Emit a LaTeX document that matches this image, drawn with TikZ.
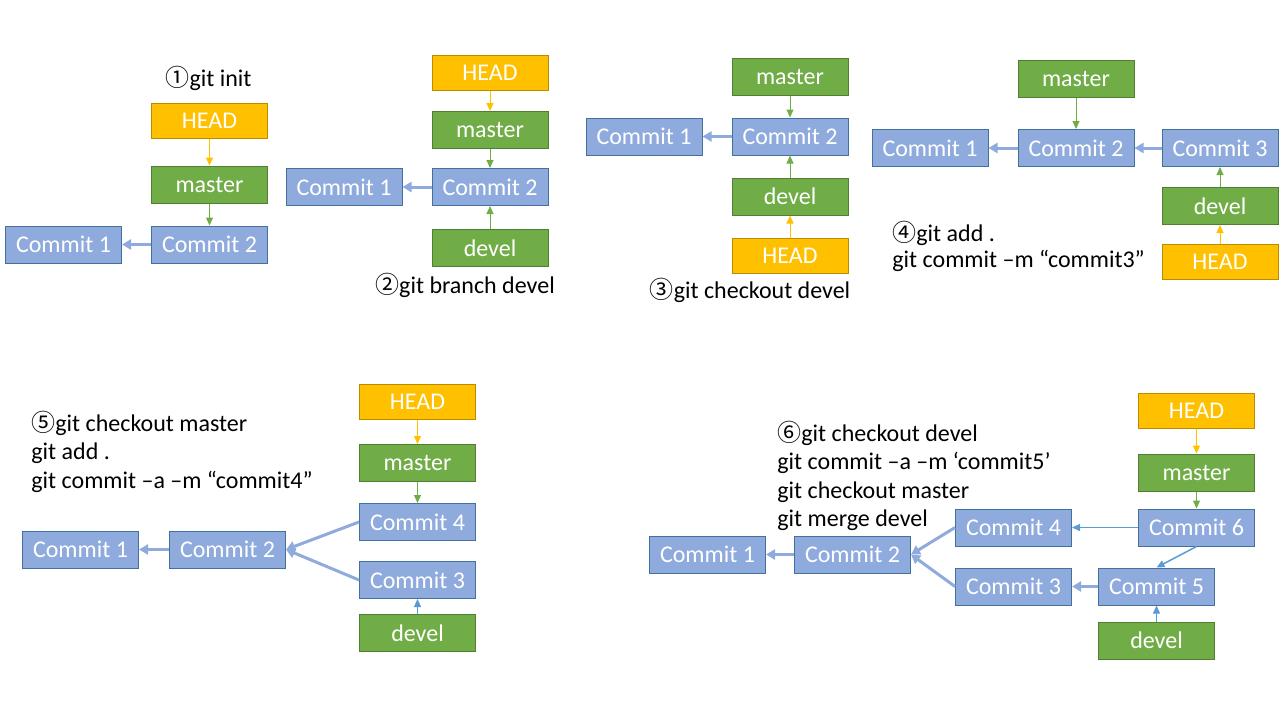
\documentclass[tikz,border=0pt]{standalone}
\usepackage{fontspec}
\setmainfont{Carlito}
\newfontfamily\numfont{Noto Sans CJK SC}
\usetikzlibrary{arrows.meta, positioning}

\definecolor{commitblue}{HTML}{8FAADC}
\definecolor{commitline}{HTML}{41719C}
\definecolor{branchgreen}{HTML}{70AD47}
\definecolor{branchline}{HTML}{507E32}
\definecolor{headyellow}{HTML}{FFC000}
\definecolor{headline}{HTML}{BC8C00}
\definecolor{pointblue}{HTML}{5B9BD5}

\newcommand{\stepnum}[1]{{\numfont #1}}

\begin{document}
\begin{tikzpicture}[
        x=0.5pt, y=-0.5pt,
        font=\fontsize{12}{14.25}\selectfont,
        box/.style={rectangle, draw, line width=0.5pt, minimum width=58pt, minimum height=18.5pt, inner sep=0pt, text=white},
        commit/.style={box, fill=commitblue, draw=commitline},
        branch/.style={box, fill=branchgreen, draw=branchline},
        head/.style={box, fill=headyellow, draw=headline, minimum height=17.5pt},
        cmd/.style={align=left, anchor=west, inner sep=0pt},
        parent/.style={-{Triangle[length=4.5pt, width=5pt]}, line width=1.5pt, commitblue},
        ptr/.style={-{Triangle[length=4pt, width=3.5pt]}, line width=0.5pt}
    ]
        \useasboundingbox (0,0) rectangle (1280,720);

        % Panel 1
        \node[commit] (p1c2) at (209.5,244.5) {Commit 2};
        \node[commit, left=14.5pt of p1c2] (p1c1) {Commit 1};
        \node[branch, above=11pt of p1c2] (p1master) {master};
        \node[head, above=13.5pt of p1master] (p1head) {HEAD};
        \node (p1label) at (208.5,78) {\stepnum{①}git init};

        % Panel 2
        \node[commit] (p2c2) at (490,187) {Commit 2};
        \node[commit, left=14.5pt of p2c2] (p2c1) {Commit 1};
        \node[branch, above=9.5pt of p2c2] (p2master) {master};
        \node[head, above=10pt of p2master] (p2head) {HEAD};
        \node[branch, below=11.5pt of p2c2] (p2devel) {devel};
        \node (p2label) at (465,285) {\stepnum{②}git branch devel};

        % Panel 3
        \node[commit] (p3c2) at (790,136.5) {Commit 2};
        \node[commit, left=14.5pt of p3c2] (p3c1) {Commit 1};
        \node[branch, above=11pt of p3c2] (p3master) {master};
        \node[branch, below=11pt of p3c2] (p3devel) {devel};
        \node[head, below=11pt of p3devel] (p3head) {HEAD};
        \node (p3label) at (750,290) {\stepnum{③}git checkout devel};

        % Panel 4
        \node[commit] (p4c2) at (1076,148) {Commit 2};
        \node[commit, left=14.5pt of p4c2] (p4c1) {Commit 1};
        \node[commit, right=13.5pt of p4c2] (p4c3) {Commit 3};
        \node[branch, above=15.5pt of p4c2] (p4master) {master};
        \node[branch, below=10pt of p4c3] (p4devel) {devel};
        \node[head, below=9.5pt of p4devel] (p4head) {HEAD};
        \node[cmd, font=\fontsize{12}{13}\selectfont] (p4label) at (892,246)
            {\stepnum{④}git add .\\git commit –m “commit3”};

        % Panel 5
        \node[commit] (p5c2) at (227.5,549.5) {Commit 2};
        \node[commit, left=15pt of p5c2] (p5c1) {Commit 1};
        \node[commit] (p5c4) at (417.5,522) {Commit 4};
        \node[commit, below=10pt of p5c4] (p5c3) {Commit 3};
        \node[branch, below=7.5pt of p5c3] (p5devel) {devel};
        \node[branch, above=10.5pt of p5c4] (p5master) {master};
        \node[head, above=12pt of p5master] (p5head) {HEAD};
        \node[cmd] (p5label) at (31,451.5)
            {\stepnum{⑤}git checkout master\\git add .\\git commit –a –m “commit4”};

        % Panel 6
        \node[commit] (p6c2) at (852.5,554.5) {Commit 2};
        \node[commit, left=14pt of p6c2] (p6c1) {Commit 1};
        \node[commit] (p6c4) at (1013.5,527.5) {Commit 4};
        \node[commit, below=10.5pt of p6c4] (p6c3) {Commit 3};
        \node[commit, right=13pt of p6c3] (p6c5) {Commit 5};
        \node[branch, below=8pt of p6c5] (p6devel) {devel};
        \node[commit, right=33pt of p6c4] (p6c6) {Commit 6};
        \node[branch, above=8.5pt of p6c6] (p6master) {master};
        \node[head, above=12.5pt of p6master] (p6head) {HEAD};
        \node[cmd] (p6label) at (777,475.75)
            {\stepnum{⑥}git checkout devel\\git commit –a –m ‘commit5’\\git checkout master\\git merge devel};

        % Parent arrows
        \draw[parent] (p1c2) -- (p1c1);
        \draw[parent] (p2c2) -- (p2c1);
        \draw[parent] (p3c2) -- (p3c1);
        \draw[parent] (p4c2) -- (p4c1);
        \draw[parent] (p4c3) -- (p4c2);
        \draw[parent] (p5c2) -- (p5c1);
        \draw[parent] (p5c4.west) -- (p5c2.east);
        \draw[parent] (p5c3.west) -- (p5c2.east);
        \draw[parent] (p6c2) -- (p6c1);
        \draw[parent] (p6c4.west) -- (p6c2.east);
        \draw[parent] (p6c3.west) -- (p6c2.east);
        \draw[parent] (p6c5) -- (p6c3);
        \draw[ptr, pointblue, line width=0.75pt] (p6c6) -- (p6c4);
        \draw[ptr, pointblue, line width=0.75pt] (p6c6.south) -- (p6c5.north);

        % Pointer arrows
        \draw[ptr, headyellow] (p1head) -- (p1master);
        \draw[ptr, branchgreen] (p1master) -- (p1c2);
        \draw[ptr, headyellow] (p2head) -- (p2master);
        \draw[ptr, branchgreen] (p2master) -- (p2c2);
        \draw[ptr, branchgreen] (p2devel) -- (p2c2);
        \draw[ptr, branchgreen] (p3master) -- (p3c2);
        \draw[ptr, branchgreen] (p3devel) -- (p3c2);
        \draw[ptr, headyellow] (p3head) -- (p3devel);
        \draw[ptr, branchgreen] (p4master) -- (p4c2);
        \draw[ptr, branchgreen] (p4devel) -- (p4c3);
        \draw[ptr, headyellow] (p4head) -- (p4devel);
        \draw[ptr, headyellow] (p5head) -- (p5master);
        \draw[ptr, branchgreen] (p5master) -- (p5c4);
        \draw[ptr, pointblue] (p5devel) -- (p5c3);
        \draw[ptr, headyellow] (p6head) -- (p6master);
        \draw[ptr, branchgreen] (p6master) -- (p6c6);
        \draw[ptr, pointblue] (p6devel) -- (p6c5);
    \end{tikzpicture}
\end{document}
